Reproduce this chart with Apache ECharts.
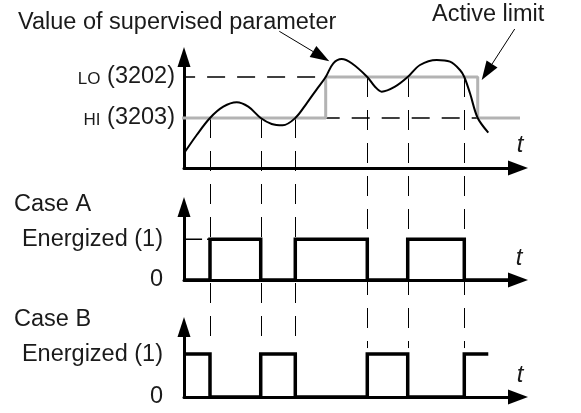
<!DOCTYPE html>
<html><head><meta charset="utf-8">
<script src="https://cdn.jsdelivr.net/npm/echarts@6/dist/echarts.min.js"></script>
<style>html,body{margin:0;padding:0;background:#fff}#c{width:581px;height:413px}</style>
</head><body><div id="c"></div>
<script>
// ---- data ----
const HI = 50, LO = 91;
const hiText = 'HI', hiCode = '(3203)';
const loText = 'LO', loCode = '(3202)';
const curveT = [0, 3.69, 7.55, 11.41, 15.31, 18.67, 22.28, 25.47, 28.66, 32.32, 35.63, 38.54, 41.15, 43.36, 45.8, 48.7, 53.23, 55.47, 57.42, 61.28, 64.97, 68.54, 73.39, 77.25, 80.15, 81.40, 83.06, 85.30, 88.37];
const curveV = [14.7, 33, 50, 61.3, 65.7, 61.3, 50, 44, 42.7, 50, 64.7, 78.7, 91, 104.7, 109, 104.7, 91, 81.3, 76.3, 81.3, 91, 103, 108, 106.3, 98, 91, 74.7, 50, 35.3];
const switchTimes = [7.55, 22.28, 32.32, 53.23, 64.97, 81.40];
const switchLevels = [HI, HI, HI, LO, LO, LO];
const limitT = [-2.5, 41.15, 41.15, 85.30, 85.30, 99.0];
const limitV = [HI, HI, LO, LO, HI, HI];
const caseAStart = 0, caseBStart = 1;
const caseAEndT = 97, caseBEndT = 88.37;
const stateLabels = ['0', 'Energized (1)'];
const tMax = 97;

// ---- helpers ----
const FONT = '"Liberation Sans", Arial, Helvetica, sans-serif';
const TXT = '#1a1a1a';
function pairs(ts, vs) { return ts.map((t, i) => [t, vs[i]]); }
function stepData(start, times, endT) {
  const d = [[0, start]];
  let s = start;
  times.forEach(t => { d.push([t, s]); s = 1 - s; d.push([t, s]); });
  d.push([endT, s]);
  return d;
}
function xAx(gi) {
  return { type: 'value', gridIndex: gi, min: 0, max: tMax,
    axisLine: { show: true, symbol: ['none', 'triangle'], symbolSize: [15, 20], lineStyle: { color: '#000', width: 3 } },
    axisTick: { show: false }, axisLabel: { show: false }, splitLine: { show: false } };
}
function yAx(gi, max, vals, fmt, margin) {
  return { type: 'value', gridIndex: gi, min: 0, max: max,
    axisLine: { show: true, symbol: ['none', 'triangle'], symbolSize: [13, 20], lineStyle: { color: '#000', width: 3 } },
    axisTick: { show: false }, splitLine: { show: false },
    axisLabel: { customValues: vals, formatter: fmt, margin: margin, fontSize: 23.5, fontFamily: FONT, color: TXT,
      rich: { s: { fontSize: 17, fontFamily: FONT, color: TXT, verticalAlign: 'bottom', padding: [0, 0, 1, 0] },
              n: { fontSize: 23.5, fontFamily: FONT, color: TXT, verticalAlign: 'bottom' } } } };
}

const chart = echarts.init(document.getElementById('c'), null, { renderer: 'canvas' });
chart.setOption({
  animation: false,
  backgroundColor: '#fff',
  grid: [
    { left: 184, top: 57, width: 334, height: 111 },
    { left: 184, top: 207, width: 334, height: 73 },
    { left: 184, top: 327, width: 334, height: 70 }
  ],
  xAxis: [xAx(0), xAx(1), xAx(2)],
  yAxis: [
    yAx(0, 111, [HI, LO], v => v === HI ? '{s|' + hiText + '} {n|' + hiCode + '}' : '{s|' + loText + '} {n|' + loCode + '}', 9),
    yAx(1, 1.79, [0, 1], v => stateLabels[v], 21),
    yAx(2, 1.63, [0, 1], v => stateLabels[v], 21)
  ],
  series: [
    { type: 'line', xAxisIndex: 0, yAxisIndex: 0, clip: false, showSymbol: false, silent: true,
      data: [[-2, LO], [limitT[1], LO]], lineStyle: { color: '#000', width: 1.4, type: [18, 12] }, z: 1 },
    { type: 'line', xAxisIndex: 0, yAxisIndex: 0, clip: false, showSymbol: false, silent: true,
      data: [[limitT[1], HI], [limitT[3], HI]], lineStyle: { color: '#000', width: 1.4, type: [18, 12], dashOffset: 4 }, z: 1 },
    { type: 'line', xAxisIndex: 0, yAxisIndex: 0, clip: false, showSymbol: false, silent: true,
      data: pairs(limitT, limitV), lineStyle: { color: '#b3b3b3', width: 3 }, z: 2 },
    { type: 'line', xAxisIndex: 0, yAxisIndex: 0, clip: false, showSymbol: false, silent: true, smooth: 0.35,
      data: pairs(curveT, curveV), lineStyle: { color: '#000', width: 2 }, z: 3 },
    { type: 'line', xAxisIndex: 1, yAxisIndex: 1, clip: false, showSymbol: false, silent: true,
      data: [[-2.3, 1], [switchTimes[0], 1]], lineStyle: { color: '#000', width: 1.4, type: [17, 5], dashOffset: 13 }, z: 1 },
    { type: 'line', xAxisIndex: 1, yAxisIndex: 1, clip: false, showSymbol: false, silent: true,
      data: stepData(caseAStart, switchTimes, caseAEndT), lineStyle: { color: '#000', width: 3.5, join: 'miter' }, z: 3 },
    { type: 'line', xAxisIndex: 2, yAxisIndex: 2, clip: false, showSymbol: false, silent: true,
      data: stepData(caseBStart, switchTimes, caseBEndT), lineStyle: { color: '#000', width: 3.5, join: 'miter' }, z: 3 }
  ]
});

// ---- annotations derived from the scales ----
const P = (gi, t, v) => chart.convertToPixel({ gridIndex: gi }, [t, v]);
const g = [];
const bEnergY = P(2, 0, 1)[1];
switchTimes.forEach((t, i) => {
  const top = P(0, t, switchLevels[i]);
  const x = Math.round(top[0]) + 0.5;
  g.push({ type: 'line', z: 0, silent: true,
    shape: { x1: x, y1: top[1], x2: x, y2: bEnergY - 6 },
    style: { stroke: '#000', lineWidth: 1, lineDash: [20, 13] } });
});
function arrow(tail, tip) {
  const dx = tip[0] - tail[0], dy = tip[1] - tail[1];
  const L = Math.hypot(dx, dy), ux = dx / L, uy = dy / L;
  const hl = 19, hw = 6.5;
  const bx = tip[0] - ux * hl, by = tip[1] - uy * hl;
  g.push({ type: 'line', silent: true, shape: { x1: tail[0], y1: tail[1], x2: bx, y2: by }, style: { stroke: '#000', lineWidth: 1 } });
  g.push({ type: 'polygon', silent: true, shape: { points: [tip, [bx - uy * hw, by + ux * hw], [bx + uy * hw, by - ux * hw]] }, style: { fill: '#000' } });
}
const c1 = P(0, curveT[13], curveV[13]);
const tip1 = [c1[0] - 4, c1[1] - 2];
arrow([tip1[0] - 50, tip1[1] - 30], tip1);
const c2 = P(0, limitT[4], limitV[3]);
const tip2 = [c2[0] + 4, c2[1] + 3];
arrow([tip2[0] + 33, tip2[1] - 51], tip2);

function txt(s, x, y, opts) {
  g.push({ type: 'text', silent: true, x: x, y: y,
    style: Object.assign({ text: s, font: '23.5px ' + FONT, fill: TXT, verticalAlign: 'middle', align: 'left' }, opts || {}) });
}
txt('Value of supervised parameter', 18, 23);
txt('Active limit', 432, 15);
txt('Case A', 14, 205);
txt('Case B', 14, 320);
const tFont = 'italic 24px ' + FONT;
txt('t', 520, 145, { font: tFont, align: 'center' });
txt('t', 519, 258, { font: tFont, align: 'center' });
txt('t', 520, 375, { font: tFont, align: 'center' });
chart.setOption({ graphic: g });
</script>
</body></html>
